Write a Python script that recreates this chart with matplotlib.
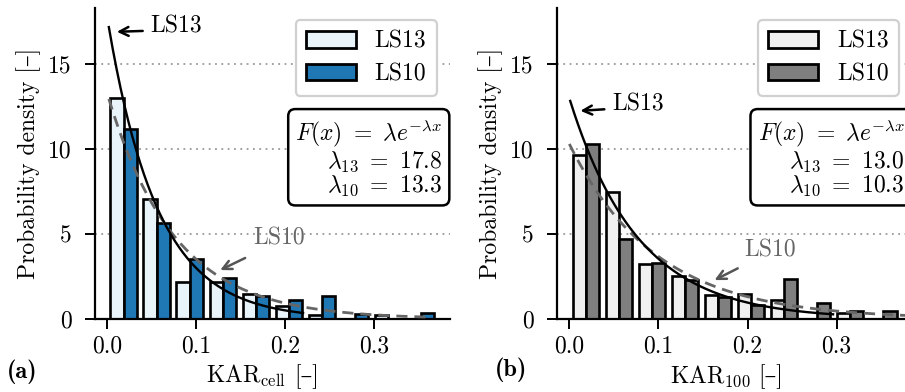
import numpy as np
import matplotlib
matplotlib.use("Agg")
import matplotlib.pyplot as plt

plt.rcParams['font.family'] = ['cmr10', 'DejaVu Serif']
plt.rcParams['mathtext.fontset'] = 'cm'
plt.rcParams['axes.formatter.use_mathtext'] = True
plt.rcParams['font.size'] = 17

# ---------------- data ----------------
bin_edges = [0.0, 0.0371, 0.0742, 0.1113, 0.1484, 0.1855, 0.2226, 0.2597, 0.2968, 0.3339, 0.371]

# panel (a): KAR_cell
a_ls13 = [13.0, 7.06, 2.18, 2.2, 1.49, 0.77, 0.24, 0.0, 0.26, 0.0]
a_ls10 = [11.2, 5.63, 3.51, 2.43, 1.38, 1.09, 1.36, 0.31, 0.0, 0.33]
a_lam13, a_lam10 = 17.8, 13.3
a_fit13_range = [0.002, 0.22]
a_fit10_range = [0.002, 0.36]

# panel (b): KAR_100
b_ls13 = [9.65, 7.49, 3.22, 2.53, 1.41, 1.47, 1.12, 0.0, 0.33, 0.0]
b_ls10 = [10.3, 4.69, 3.27, 2.29, 1.31, 0.82, 2.33, 0.96, 0.49, 0.49]
b_lam13, b_lam10 = 13.0, 10.3
b_fit13_range = [0.001, 0.296]
b_fit10_range = [0.0, 0.40]

series_labels = ['LS13', 'LS10']
xticks = [0.0, 0.1, 0.2, 0.3]
yticks = [0, 5, 10, 15]

fig = plt.figure(figsize=(9.05, 3.92), dpi=100)
ax_a = fig.add_axes([0.105, 0.1862, 0.3923, 0.7934])
ax_b = fig.add_axes([0.6158, 0.1862, 0.3923, 0.7934])


def panel(ax, h13, h10, lam13, lam10, r13, r10, c13, c10, xlabel_main, xlabel_split,
          ann13_txt, ann13_tip, ann13_from, ann10_txt, ann10_tip, ann10_from):
    edges = np.array(bin_edges)
    left = edges[:-1]
    w = np.diff(edges)
    for y in [5, 10, 15]:
        ax.axhline(y, color='#999999', lw=1.3, ls=(0, (1, 2.5)), zorder=0)
    ax.bar(left + 0.1 * w, h13, width=0.4 * w, align='edge', color=c13,
           edgecolor='black', lw=1.9, label=series_labels[0], zorder=2)
    ax.bar(left + 0.5 * w, h10, width=0.4 * w, align='edge', color=c10,
           edgecolor='black', lw=1.9, label=series_labels[1], zorder=2)
    x13 = np.linspace(r13[0], r13[1], 200)
    x10 = np.linspace(r10[0], r10[1], 200)
    ax.plot(x10, lam10 * np.exp(-lam10 * x10), color='#666666', lw=2.0,
            ls=(0, (4, 2.5)), zorder=3)
    ax.plot(x13, lam13 * np.exp(-lam13 * x13), color='black', lw=1.7, zorder=4)

    ax.set_xlim(-0.0135, 0.385)
    ax.set_ylim(0, 18.3)
    ax.set_xticks(xticks)
    ax.set_yticks(yticks)
    ax.set_xticklabels(['%.1f' % t for t in xticks])
    ax.set_yticklabels(['%d' % t for t in yticks])
    ax.tick_params(length=7, width=1.4)
    ax.tick_params(axis='y', pad=10)
    ax.tick_params(axis='x', pad=5)
    for s in ['top', 'right']:
        ax.spines[s].set_visible(False)
    for s in ['left', 'bottom']:
        ax.spines[s].set_linewidth(1.6)
    ax.set_ylabel('Probability density [–]', labelpad=5)

    # x label: math part + plain-text unit part (so the en dash renders)
    lbl = ax.text(xlabel_split, -0.205, xlabel_main, transform=ax.transAxes,
                  ha='right', va='baseline')
    ax.annotate('[–]', xy=(1.0, -0.205), xycoords=(lbl, ax.transAxes),
                xytext=(6, 0), textcoords='offset points',
                ha='left', va='baseline', annotation_clip=False)

    leg = ax.legend(loc='upper right', bbox_to_anchor=(0.963, 0.962),
                    borderaxespad=0.0,
                    handlelength=2.1, handleheight=0.72, labelspacing=0.45,
                    handletextpad=0.8, borderpad=0.45, fancybox=True,
                    framealpha=1.0)
    leg.get_frame().set_edgecolor('#d0d0d0')
    leg.get_frame().set_linewidth(1.6)
    for p in leg.get_patches():
        p.set_linewidth(2.0)

    txt = ('$F(x)\\,\\,=\\,\\,\\lambda e^{-\\lambda x}$\n'
           '$\\lambda_{13}\\,\\,=\\,\\,%.1f$\n$\\lambda_{10}\\,\\,=\\,\\,%.1f$' % (lam13, lam10))
    ax.text(0.978, 0.516, txt, transform=ax.transAxes, ha='right', va='center',
            ma='right', fontsize=17, linespacing=1.0,
            bbox=dict(boxstyle='round,pad=0.3', fc='white', ec='black', lw=1.8),
            zorder=6)

    ax.annotate('', xy=ann13_tip, xytext=ann13_from,
                arrowprops=dict(arrowstyle='->', color='black', lw=1.8,
                                shrinkA=0, shrinkB=0, mutation_scale=16))
    ax.text(ann13_txt[0], ann13_txt[1], 'LS13', ha='left', va='center',
            color='black')
    ax.annotate('', xy=ann10_tip, xytext=ann10_from,
                arrowprops=dict(arrowstyle='->', color='#555555', lw=1.8,
                                shrinkA=0, shrinkB=0, mutation_scale=16))
    ax.text(ann10_txt[0], ann10_txt[1], 'LS10', ha='left', va='center',
            color='#666666')
    return ax


panel(ax_a, a_ls13, a_ls10, a_lam13, a_lam10, a_fit13_range, a_fit10_range,
      '#e8f3fa', '#1f77b4', 'KAR$_\\mathrm{cell}$', 0.537,
      (0.0483, 17.2), (0.011, 16.9), (0.040, 16.95),
      (0.164, 4.76), (0.127, 2.88), (0.155, 3.59))
panel(ax_b, b_ls13, b_ls10, b_lam13, b_lam10, b_fit13_range, b_fit10_range,
      '#f0f0f0', '#7f7f7f', 'KAR$_{100}$', 0.543,
      (0.0488, 12.6), (0.0124, 12.25), (0.0393, 12.34),
      (0.196, 4.06), (0.163, 2.29), (0.189, 2.98))

fig.text(0.008, 0.051, '(a)', family=['cmb10', 'DejaVu Serif'], fontsize=17.5,
         ha='left', va='center')
fig.text(0.547, 0.056, '(b)', family=['cmb10', 'DejaVu Serif'], fontsize=17.5,
         ha='left', va='center')

fig.savefig('out.png', dpi=100)
